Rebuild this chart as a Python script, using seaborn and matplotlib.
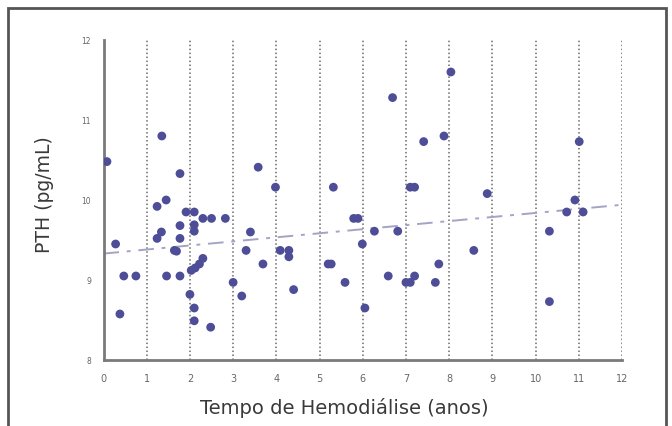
import numpy as np
import pandas as pd
import matplotlib
matplotlib.use("Agg")
import matplotlib.pyplot as plt
import seaborn as sns
from matplotlib.patches import Rectangle

# Data
tempo = [0.08, 0.28, 0.38, 0.47, 0.75,
         1.35, 1.24, 1.45, 1.34, 1.24, 1.46, 1.64, 1.69, 1.77, 1.77, 1.77, 1.77,
         1.91, 2.10, 2.10, 2.10, 2.30, 2.50, 2.82, 2.30, 2.22, 2.12, 2.03, 2.00, 2.10, 2.10, 2.48,
         3.00, 3.20, 3.40, 3.30, 3.58, 3.69, 3.98, 4.09, 4.29, 4.29, 4.40,
         5.20, 5.27, 5.32, 5.59, 5.79, 5.89, 5.99, 6.05, 6.27, 6.59, 6.69, 6.81,
         7.00, 7.10, 7.20, 7.10, 7.20, 7.41, 7.68, 7.76, 7.88, 8.04, 8.57, 8.88,
         10.32, 10.32, 10.72, 10.91, 11.01, 11.10]
pth = [10.48, 9.45, 8.575, 9.05, 9.05,
       10.80, 9.92, 10.00, 9.60, 9.52, 9.05, 9.37, 9.36, 10.33, 9.68, 9.52, 9.05,
       9.85, 9.85, 9.69, 9.61, 9.77, 9.77, 9.77, 9.27, 9.20, 9.15, 9.12, 8.82, 8.65, 8.49, 8.41,
       8.97, 8.80, 9.60, 9.37, 10.41, 9.20, 10.16, 9.37, 9.37, 9.29, 8.88,
       9.20, 9.20, 10.16, 8.97, 9.77, 9.77, 9.45, 8.65, 9.61, 9.05, 11.28, 9.61,
       8.97, 8.97, 9.05, 10.16, 10.16, 10.73, 8.97, 9.20, 10.80, 11.60, 9.37, 10.08,
       9.61, 8.73, 9.85, 10.00, 10.73, 9.85]
trend_x = [0, 12]
trend_y = [9.33, 9.94]
x_ticks = list(range(0, 13))
x_tick_labels = [str(v) for v in x_ticks]
y_ticks = [8, 9, 10, 11, 12]
y_tick_labels = [str(v) for v in y_ticks]

df = pd.DataFrame({"tempo": tempo, "pth": pth})
trend = pd.DataFrame({"x": trend_x, "y": trend_y})

sns.set_style("white")
plt.rcParams['font.family'] = ['DejaVu Sans']

fig = plt.figure(figsize=(6.72, 4.27), dpi=100)
fig.patch.set_facecolor("white")
ax = fig.add_axes([103.5 / 672, 1 - 361 / 427, (622 - 103.5) / 672, (361 - 41) / 427])

# vertical dotted grid
for xv in x_ticks[1:]:
    ax.axvline(xv, color="#6a6a6a", linestyle=(0, (1, 1.6)), linewidth=1.1, zorder=1)

sns.lineplot(data=trend, x="x", y="y", ax=ax, color="#a3a3c4",
             linewidth=1.4, zorder=2)
ax.lines[-1].set_dashes([8, 4, 2, 4])

sns.scatterplot(data=df, x="tempo", y="pth", ax=ax, s=40, color="#4d4d98",
                edgecolor="none", linewidth=0, zorder=3)

ax.set_xlim(0, 12)
ax.set_ylim(8, 12)
ax.set_xticks(x_ticks)
ax.set_xticklabels(x_tick_labels)
ax.set_yticks(y_ticks)
ax.set_yticklabels(y_tick_labels)
for s in ["top", "right"]:
    ax.spines[s].set_visible(False)
for s in ["left", "bottom"]:
    ax.spines[s].set_color("#7a7a7a")
    ax.spines[s].set_linewidth(2.0)
ax.tick_params(axis="x", direction="out", length=5, width=1.5, color="#7a7a7a",
               labelsize=7, labelcolor="#666666", pad=4)
ax.tick_params(axis="y", direction="out", length=8, width=1.5, color="#7a7a7a",
               labelsize=5.5, labelcolor="#666666", pad=1)
ax.set_xlabel("Tempo de Hemodiálise (anos)", fontsize=14, color="#3a3a3a",
              va="center", ha="center")
ax.xaxis.set_label_coords((344 - 103.5) / 518.5, (361 - 408) / 320)
ax.set_ylabel("PTH (pg/mL)", fontsize=13.5, color="#3a3a3a",
              va="center", ha="center")
ax.yaxis.set_label_coords((45 - 103.5) / 518.5, (361 - 195) / 320)

# outer frame
fig.patches.append(Rectangle((8 / 672, -0.05), (666 - 8) / 672, 1.05 - 9 / 427,
                             transform=fig.transFigure, fill=False,
                             edgecolor="#555555", linewidth=2.0))

fig.savefig("out.png", dpi=100, facecolor="white")
